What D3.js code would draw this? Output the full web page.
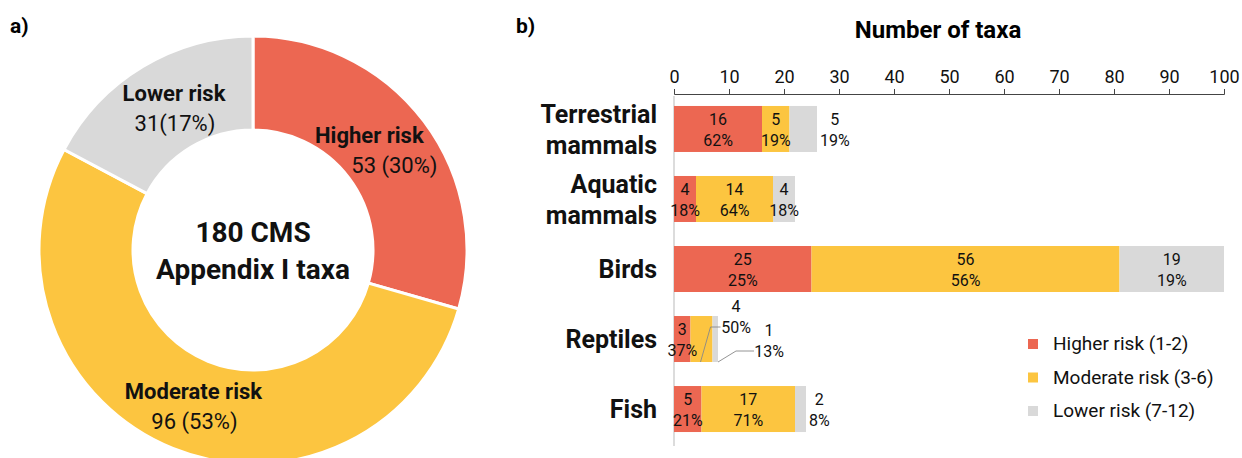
<!DOCTYPE html>
<html>
<head>
<meta charset="utf-8">
<script src="https://cdn.jsdelivr.net/npm/d3@7"></script>
<style>
  body { margin: 0; background: #fff; }
  svg { font-family: Roboto, "Noto Sans", sans-serif; }
</style>
</head>
<body>
<svg width="1242" height="458"></svg>
<script>
// data
const riskLevels = ["Higher risk", "Moderate risk", "Lower risk"];
const legendLabels = ["Higher risk (1-2)", "Moderate risk (3-6)", "Lower risk (7-12)"];
const riskColors = ["#ec6752", "#fcc540", "#d9d9d9"];

const totalCounts = [53, 96, 31];
const totalLabels = ["53 (30%)", "96 (53%)", "31(17%)"];

const groups = [["Terrestrial", "mammals"], ["Aquatic", "mammals"], ["Birds"], ["Reptiles"], ["Fish"]];
const higher = [16, 4, 25, 3, 5];
const moderate = [5, 14, 56, 4, 17];
const lower = [5, 4, 19, 1, 2];
const higherPct = ["62%", "18%", "25%", "37%", "21%"];
const moderatePct = ["19%", "64%", "56%", "50%", "71%"];
const lowerPct = ["19%", "18%", "19%", "13%", "8%"];
const xTicks = [0, 10, 20, 30, 40, 50, 60, 70, 80, 90, 100];

// how each segment label is placed: in = inside, out = right of bar, up / side = with leader line
const labelModes = [
    ["in", "in", "out"],
    ["in", "in", "in"],
    ["in", "in", "in"],
    ["in", "up", "side"],
    ["in", "in", "out"]
];

const svg = d3.select("svg");

// panel letters
svg.append("text").attr("x", 10).attr("y", 33).attr("font-size", 21).attr("font-weight", 700).text("a)");
svg.append("text").attr("x", 516).attr("y", 33).attr("font-size", 21).attr("font-weight", 700).text("b)");

// ---- a) donut ----
const cx = 253, cy = 250;
const donut = svg.append("g").attr("transform", `translate(${cx},${cy})`);
const pie = d3.pie().sort(null).value(d => d)(totalCounts);
const arc = d3.arc().innerRadius(120).outerRadius(214);
const labelArc = d3.arc().innerRadius(167).outerRadius(167);
const nameShift = [-17, 3, 7];   // nudge labels like the original
const valueShift = [8, 4, 8];

donut.selectAll("path")
    .data(pie)
    .enter()
    .append("path")
    .attr("d", arc)
    .attr("fill", (d, i) => riskColors[i])
    .attr("stroke", "#fff")
    .attr("stroke-width", 3);

const dl = donut.selectAll(".dlabel")
    .data(pie)
    .enter()
    .append("text")
    .attr("class", "dlabel")
    .attr("text-anchor", "middle")
    .attr("font-size", 22)
    .attr("fill", "#111")
    .attr("transform", d => `translate(${labelArc.centroid(d)})`);
dl.append("tspan").attr("x", (d, i) => nameShift[i]).attr("y", -6).attr("font-weight", 700).text((d, i) => riskLevels[i]);
dl.append("tspan").attr("x", (d, i) => valueShift[i]).attr("y", 24).text((d, i) => totalLabels[i]);

const center = donut.append("text")
    .attr("text-anchor", "middle")
    .attr("font-size", 28)
    .attr("font-weight", 700)
    .attr("fill", "#111");
center.append("tspan").attr("x", 0).attr("y", -8).text("180 CMS");
center.append("tspan").attr("x", 0).attr("y", 29).text("Appendix I taxa");

// ---- b) stacked bars ----
const xScale = d3.scaleLinear().domain([0, 100]).range([674, 1224]);
const yScale = d3.scaleBand()
    .domain(d3.range(groups.length))
    .range([94, 444])
    .paddingInner(0.343)
    .paddingOuter(0.171);

svg.append("text")
    .attr("x", 938).attr("y", 38)
    .attr("text-anchor", "middle")
    .attr("font-size", 24)
    .attr("font-weight", 700)
    .text("Number of taxa");

// baseline
svg.append("line")
    .attr("x1", xScale(0)).attr("x2", xScale(0))
    .attr("y1", 96).attr("y2", 446)
    .attr("stroke", "#d0d0d0").attr("stroke-width", 1.5);

const axis = svg.append("g")
    .attr("transform", "translate(0,94)")
    .call(d3.axisTop(xScale).tickValues(xTicks).tickSize(5).tickPadding(6).tickSizeOuter(5));
axis.select(".domain").attr("stroke", "#444");
axis.selectAll(".tick line").attr("stroke", "#444");
axis.selectAll(".tick text").attr("font-size", 18).attr("fill", "#111").attr("font-family", "Roboto");

// category labels
const cat = svg.selectAll(".cat")
    .data(groups)
    .enter()
    .append("text")
    .attr("class", "cat")
    .attr("text-anchor", "end")
    .attr("font-size", 25)
    .attr("font-weight", 700)
    .attr("fill", "#111");
cat.each(function (d, i) {
    const mid = yScale(i) + yScale.bandwidth() / 2;
    const t = d3.select(this);
    if (d.length === 2) {
        t.append("tspan").attr("x", 657).attr("y", mid - 6).text(d[0]);
        t.append("tspan").attr("x", 657).attr("y", mid + 25).text(d[1]);
    } else {
        t.append("tspan").attr("x", 657).attr("y", mid + 9).text(d[0]);
    }
});

// segments
const series = [higher, moderate, lower];
const pcts = [higherPct, moderatePct, lowerPct];
const segs = [];
groups.forEach((g, i) => {
    let start = 0;
    series.forEach((s, k) => {
        segs.push({ row: i, k: k, x0: start, x1: start + s[i], n: s[i], pct: pcts[k][i], mode: labelModes[i][k] });
        start += s[i];
    });
});

svg.selectAll(".seg")
    .data(segs)
    .enter()
    .append("rect")
    .attr("class", "seg")
    .attr("x", d => xScale(d.x0))
    .attr("y", d => yScale(d.row))
    .attr("width", d => xScale(d.x1) - xScale(d.x0))
    .attr("height", yScale.bandwidth())
    .attr("fill", d => riskColors[d.k]);

// segment labels
const lab = svg.append("g").attr("font-size", 16).attr("fill", "#111");
function twoLine(x, y, n, pct) {
    lab.append("text").attr("text-anchor", "middle").attr("x", x).attr("y", y).text(n);
    lab.append("text").attr("text-anchor", "middle").attr("x", x).attr("y", y + 21).text(pct);
}
function leader(pts) {
    lab.append("polyline")
        .attr("points", pts.join(" "))
        .attr("fill", "none").attr("stroke", "#888").attr("stroke-width", 0.9);
}
segs.forEach(d => {
    const top = yScale(d.row);
    const mid = top + yScale.bandwidth() / 2;
    const bottom = top + yScale.bandwidth();
    if (d.mode === "in") {
        twoLine((xScale(d.x0) + xScale(d.x1)) / 2, mid - 4, d.n, d.pct);
    } else if (d.mode === "out") {
        const tmp = lab.append("text").attr("x", -100).attr("y", -100).text(d.pct);
        const tw = tmp.node().getComputedTextLength();
        tmp.remove();
        twoLine(xScale(d.x1) + 3 + tw / 2, mid - 4, d.n, d.pct);
    } else if (d.mode === "up") {
        const sx = (xScale(d.x0) + xScale(d.x1)) / 2 - 1;
        leader([[sx, bottom], [sx + 10, mid - 12], [sx + 20, mid - 12]]);
        twoLine(xScale(d.x1) + 23.5, mid - 27, d.n, d.pct);
    } else {
        const sx = xScale(d.x1);
        leader([[sx, bottom], [sx + 18, bottom - 11], [sx + 36, bottom - 11]]);
        twoLine(xScale(d.x1) + 51, mid - 3, d.n, d.pct);
    }
});

// legend
const legend = svg.append("g").attr("transform", "translate(1028,339)");
legendLabels.forEach((l, i) => {
    legend.append("rect")
        .attr("x", 0).attr("y", i * 33.5)
        .attr("width", 10).attr("height", 10)
        .attr("fill", riskColors[i]);
    legend.append("text")
        .attr("x", 25).attr("y", i * 33.5 + 11)
        .attr("font-size", 19).attr("fill", "#111")
        .text(l);
});
</script>
</body>
</html>
